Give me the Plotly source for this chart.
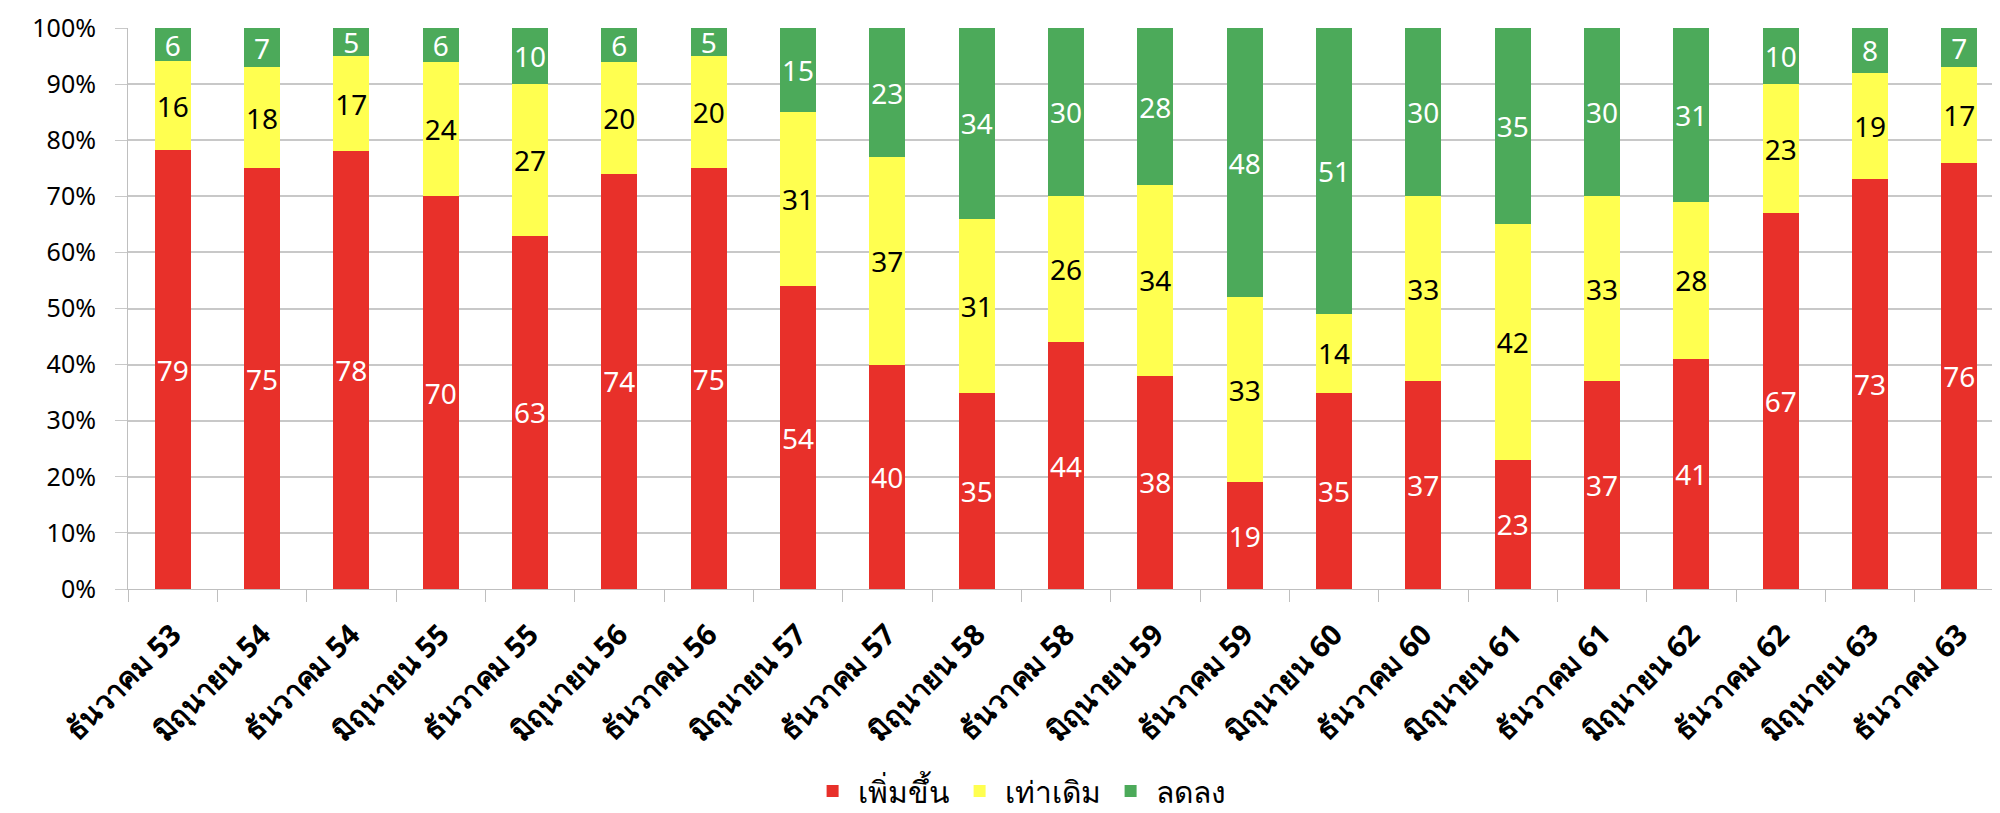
import plotly.graph_objects as go

categories = [
    "ธันวาคม 53", "มิถุนายน 54", "ธันวาคม 54", "มิถุนายน 55", "ธันวาคม 55",
    "มิถุนายน 56", "ธันวาคม 56", "มิถุนายน 57", "ธันวาคม 57", "มิถุนายน 58",
    "ธันวาคม 58", "มิถุนายน 59", "ธันวาคม 59", "มิถุนายน 60", "ธันวาคม 60",
    "มิถุนายน 61", "ธันวาคม 61", "มิถุนายน 62", "ธันวาคม 62", "มิถุนายน 63",
    "ธันวาคม 63",
]
increase = [79, 75, 78, 70, 63, 74, 75, 54, 40, 35, 44, 38, 19, 35, 37, 23, 37, 41, 67, 73, 76]
same = [16, 18, 17, 24, 27, 20, 20, 31, 37, 31, 26, 34, 33, 14, 33, 42, 33, 28, 23, 19, 17]
decrease = [6, 7, 5, 6, 10, 6, 5, 15, 23, 34, 30, 28, 48, 51, 30, 35, 30, 31, 10, 8, 7]

y_ticks = [0, 10, 20, 30, 40, 50, 60, 70, 80, 90, 100]
y_tick_text = [f"{v}%" for v in y_ticks]

series = [
    ("เพิ่มขึ้น", increase, "#E8302A", "white"),
    ("เท่าเดิม", same, "#FFFF50", "black"),
    ("ลดลง", decrease, "#4CAA5A", "white"),
]

FONT = "Noto Sans, DejaVu Sans, sans-serif"

fig = go.Figure()
for name, vals, color, txtcolor in series:
    fig.add_trace(
        go.Bar(
            x=categories,
            y=vals,
            name=name,
            marker=dict(color=color, line_width=0),
            text=vals,
            texttemplate="%{text}",
            textposition="inside",
            insidetextanchor="middle",
            textangle=0,
            textfont=dict(color=txtcolor, size=28, family=FONT),
        )
    )

fig.update_layout(
    width=2000,
    height=813,
    barmode="stack",
    barnorm="percent",
    bargap=0.6,
    plot_bgcolor="white",
    paper_bgcolor="white",
    margin=dict(l=120, r=4, t=20, b=225),
    font=dict(family=FONT, size=25, color="black"),
    uniformtext=dict(minsize=28, mode="show"),
    legend=dict(
        orientation="h",
        traceorder="normal",
        x=0.475,
        xanchor="center",
        y=-0.36,
        yanchor="middle",
        font=dict(size=30, family=FONT),
        itemwidth=40,
    ),
    xaxis=dict(
        automargin=False,
        tickangle=-45,
        tickson="boundaries",
        ticks="outside",
        ticklen=12,
        tickcolor="#BFBFBF",
        showline=True,
        linecolor="#BFBFBF",
        tickfont=dict(size=29, family=FONT, weight="bold"),
        ticklabelstandoff=16,
    ),
    yaxis=dict(
        automargin=False,
        range=[0, 100.001],
        tickmode="array",
        tickvals=y_ticks,
        ticktext=y_tick_text,
        ticklabeloverflow="allow",
        showgrid=True,
        gridcolor="#C8C8C8",
        gridwidth=1.5,
        ticks="outside",
        ticklen=12,
        tickcolor="#C8C8C8",
        showline=True,
        linecolor="#BFBFBF",
        zeroline=False,
        tickfont=dict(size=25, family=FONT),
        ticklabelstandoff=14,
    ),
)

fig.write_html("out.html")
